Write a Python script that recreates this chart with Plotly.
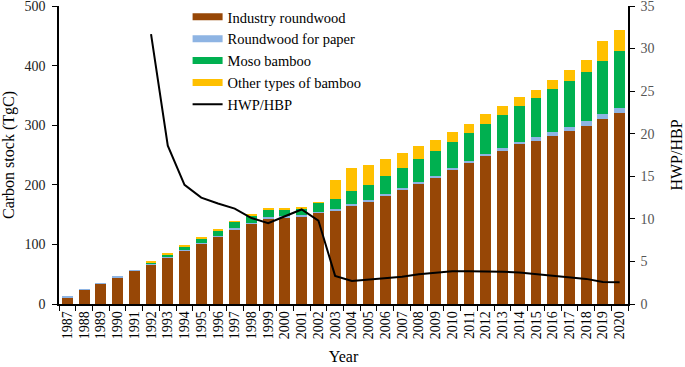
import plotly.graph_objects as go

years = [str(y) for y in range(1987, 2021)]

industry_roundwood = [11.5, 23.5, 34, 45, 55.5, 66.5, 77.5, 90, 101.5, 113, 125.5, 135, 144, 145.5, 147.5, 153,
                      157.5, 165, 172, 182, 192, 203, 213, 225, 237, 248, 257, 268, 274, 282, 290, 299, 310, 320]
roundwood_for_paper = [1, 1, 1, 0.8, 1, 1, 1, 1, 1, 1, 1.5, 1.5, 2, 1.5, 2, 2,
                       2, 3, 2.5, 2, 2, 2.5, 2.5, 3, 3, 3.5, 4.5, 4, 5.5, 6, 6.5, 8, 8, 9]
moso_bamboo = [0, 0, 0, 0, 0, 2, 5, 6, 8, 9.5, 11, 12, 13, 12, 11, 15,
               17.5, 21, 25, 30, 35, 37, 41, 43, 47, 51, 56, 61, 66, 72, 78, 83, 90, 96]
other_bamboo = [0, 0, 0, 0, 0, 1, 1, 1.5, 1.5, 1, 1, 2, 1.5, 1.5, 1.5, 1,
                31, 39, 34, 29, 24, 22, 19, 17, 15, 15.5, 15, 14, 14, 16, 18, 20, 33, 34]

ratio_years = [str(y) for y in range(1992, 2021)]
hwp_hbp = [31.7, 18.6, 14.0, 12.5, 11.8, 11.2, 10.1, 9.5, 10.3, 11.1, 9.8,
           3.3, 2.7, 2.85, 3.0, 3.2, 3.5, 3.7, 3.84, 3.84, 3.84, 3.8, 3.7,
           3.5, 3.3, 3.1, 2.95, 2.58, 2.55]

series = [
    ("Industry roundwood", industry_roundwood, "#974706"),
    ("Roundwood for paper", roundwood_for_paper, "#8EB4E3"),
    ("Moso bamboo", moso_bamboo, "#00B050"),
    ("Other types of bamboo", other_bamboo, "#FFC000"),
]

FONT = "Liberation Serif, Times New Roman, serif"

fig = go.Figure()
for name, vals, col in series:
    fig.add_trace(go.Bar(x=years, y=vals, name=name, marker=dict(color=col, line=dict(width=0)),
                         showlegend=False, yaxis="y"))
# legend entries with wide swatches
for name, vals, col in series:
    fig.add_trace(go.Scatter(x=[None], y=[None], mode="lines", name=name,
                             line=dict(color=col, width=7), yaxis="y"))
fig.add_trace(go.Scatter(x=ratio_years, y=hwp_hbp, mode="lines", name="HWP/HBP",
                         line=dict(color="black", width=2), yaxis="y2"))

fig.update_layout(
    width=685, height=367,
    margin=dict(l=59, r=57, t=6, b=63, autoexpand=False),
    barmode="stack", bargap=0.35,
    plot_bgcolor="white", paper_bgcolor="white",
    font=dict(family=FONT, size=14, color="#000000"),
    showlegend=True,
    legend=dict(x=0.226, y=1.017, xanchor="left", yanchor="top", traceorder="normal",
                font=dict(family=FONT, size=14.5, color="#000000"),
                bgcolor="rgba(0,0,0,0)", tracegroupgap=0, itemwidth=30),
    xaxis=dict(type="category", categoryorder="array", categoryarray=years,
               tickmode="array", tickvals=years, ticktext=years, automargin=False,
               tickangle=-90, ticks="outside", tickson="boundaries", ticklen=5,
               tickcolor="black", showline=True, linecolor="black", linewidth=1.5,
               showgrid=False, tickfont=dict(size=14, family=FONT),
               title=dict(text="Year", font=dict(size=16, family=FONT), standoff=12)),
    yaxis=dict(range=[0, 500], dtick=100, ticks="outside", ticklen=5, tickcolor="black",
               showline=True, linecolor="black", linewidth=1.5, showgrid=False, zeroline=False,
               tickfont=dict(size=14, family=FONT, color="#222222"), ticklabelstandoff=4,
               automargin=False, ticklabeloverflow="allow",
               title=dict(text="Carbon stock (TgC)", font=dict(size=16, family=FONT), standoff=11)),
    yaxis2=dict(range=[0, 35], dtick=5, overlaying="y", side="right", ticks="outside", ticklen=5,
                tickcolor="black", showline=True, linecolor="black", linewidth=1.5, automargin=False,
                showgrid=False, zeroline=False, ticklabeloverflow="allow", ticklabelstandoff=3,
                tickfont=dict(size=14, family=FONT, color="#555555"),
                title=dict(text="HWP/HBP", font=dict(size=16, family=FONT), standoff=17)),
)

fig.write_html("out.html", config={"displayModeBar": False},
               post_script="document.body.style.margin='0';document.body.style.overflow='hidden';")
